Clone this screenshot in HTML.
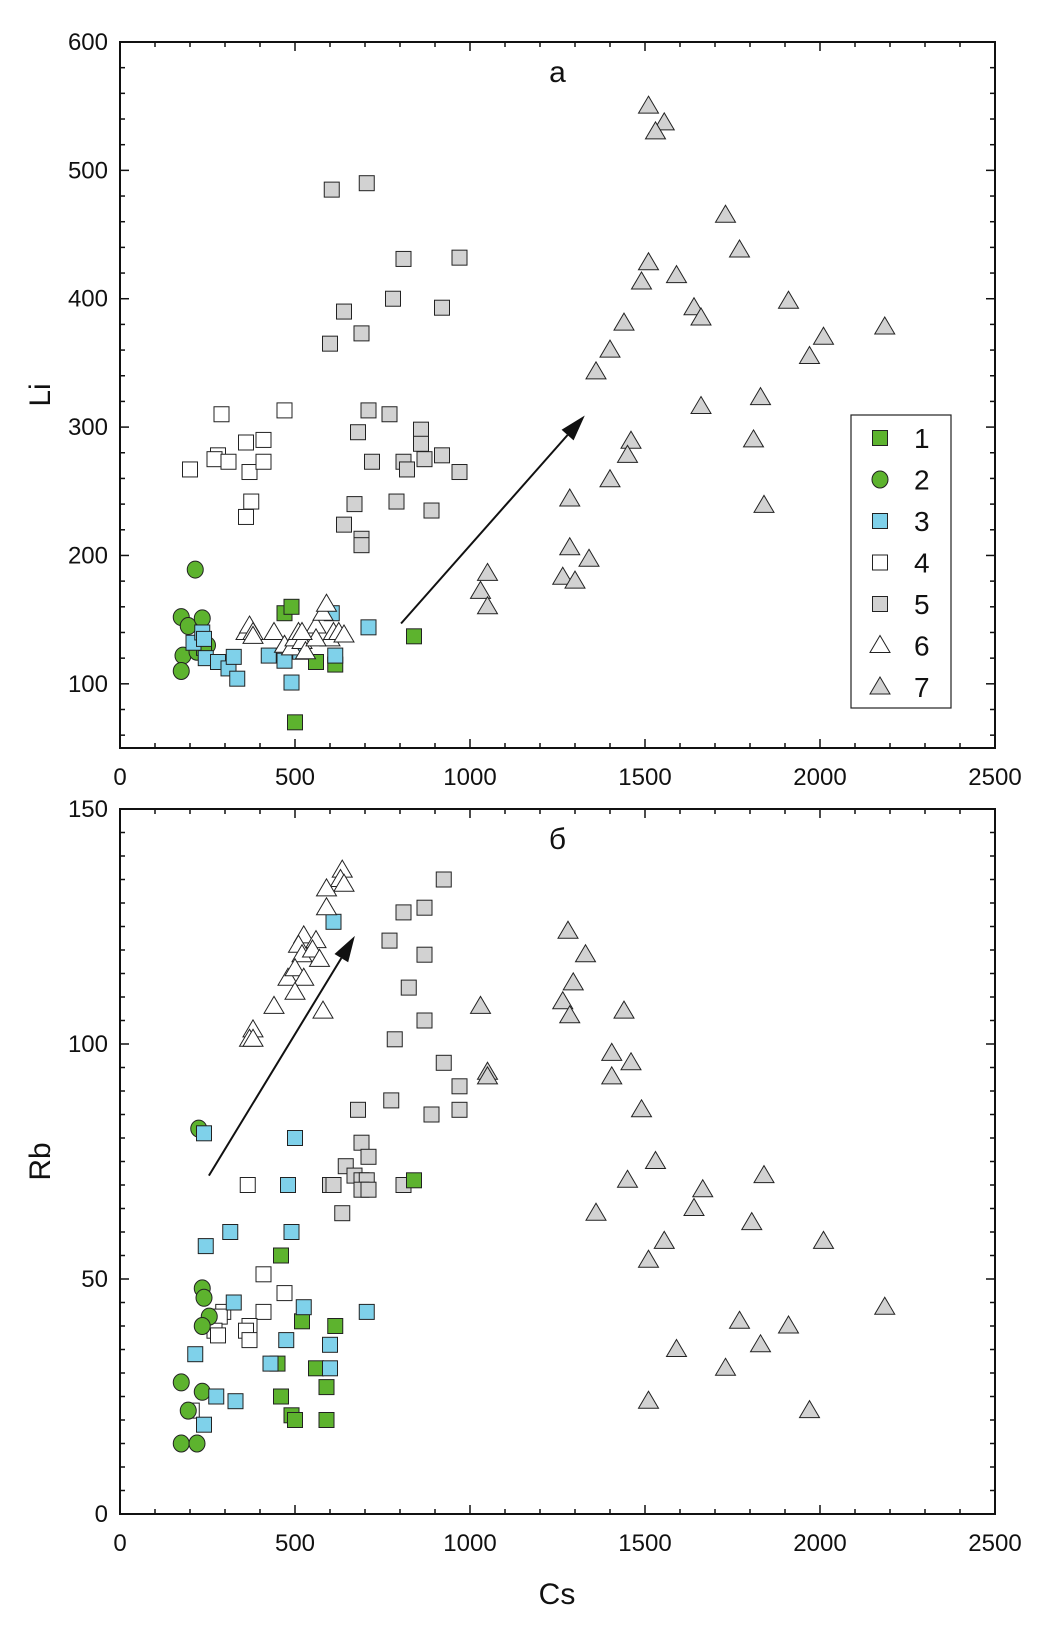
<!DOCTYPE html>
<html><head><meta charset="utf-8"><style>
html,body{margin:0;padding:0;background:#fff;}
svg{display:block;font-family:"Liberation Sans",sans-serif;}
</style></head><body>
<svg id="chart" width="1044" height="1632" viewBox="0 0 1044 1632" xmlns="http://www.w3.org/2000/svg"></svg>
<script>
// ---- Panel a: Li vs Cs ----
const a_s1x=[470,490,500,560,615,840,240];
const a_s1y=[155,160,70,117,115,137,128];
const a_s2x=[175,195,180,175,215,235,250,220];
const a_s2y=[152,145,122,110,189,151,130,125];
const a_s3x=[210,235,240,245,280,310,325,335,425,470,490,515,605,615,710];
const a_s3y=[132,140,135,120,117,112,121,104,122,118,101,125,155,122,144];
const a_s4x=[200,280,290,270,310,360,370,375,360,410,410,470];
const a_s4y=[267,278,310,275,273,288,265,242,230,290,273,313];
const a_s5x=[605,705,600,640,690,780,810,970,920,710,770,680,860,860,720,810,820,870,920,970,670,790,890,640,690,690];
const a_s5y=[485,490,365,390,373,400,431,432,393,313,310,296,298,287,273,273,267,275,278,265,240,242,235,224,213,208];
const a_s6x=[360,370,380,380,440,470,490,500,510,520,530,560,580,590,600,610,625,640,560,520];
const a_s6y=[140,145,140,137,140,130,128,135,140,133,125,145,155,162,135,140,140,138,135,140];
const a_s7x=[1510,1555,1530,1730,1770,1510,1590,1490,1640,1660,1910,2010,1970,2185,1440,1400,1360,1660,1830,1810,1460,1450,1400,1840,1285,1285,1340,1265,1300,1050,1030,1050];
const a_s7y=[550,537,530,465,438,428,418,413,393,385,398,370,355,378,381,360,343,316,323,290,289,278,259,239,244,206,197,183,180,186,172,160];
// ---- Panel b: Rb vs Cs ----
const b_s1x=[840,460,520,615,450,560,590,460,490,500,590];
const b_s1y=[71,55,41,40,32,31,27,25,21,20,20];
const b_s2x=[225,235,240,255,235,175,235,195,175,220];
const b_s2y=[82,48,46,42,40,28,26,22,15,15];
const b_s3x=[240,500,480,490,315,245,325,525,705,475,215,430,600,600,275,330,240,610];
const b_s3y=[81,80,70,60,60,57,45,44,43,37,34,32,36,31,25,24,19,126];
const b_s4x=[365,410,470,410,295,285,270,370,360,280,370,205];
const b_s4y=[70,51,47,43,43,42,39,40,39,38,37,22];
const b_s5x=[925,810,870,770,870,825,870,785,925,970,775,680,970,890,690,710,645,670,690,705,600,610,810,690,710,635];
const b_s5y=[135,128,129,122,119,112,105,101,96,91,88,86,86,85,79,76,74,72,71,71,70,70,70,69,69,64];
const b_s6x=[635,630,640,590,590,525,510,560,520,550,570,480,500,525,500,440,580,380,370,380];
const b_s6y=[137,135,134,133,129,123,121,122,119,120,118,114,116,114,111,108,107,103,101,101];
const b_s7x=[1280,1330,1295,1265,1285,1030,1440,1050,1050,1405,1405,1460,1490,1530,1450,1840,1665,1360,1640,1805,1555,2010,1510,2185,1770,1910,1830,1590,1730,1510,1970];
const b_s7y=[124,119,113,109,106,108,107,94,93,98,93,96,86,75,71,72,69,64,65,62,58,58,54,44,41,40,36,35,31,24,22];
const xTicks=[0,500,1000,1500,2000,2500];
const aYTicks=[100,200,300,400,500,600];
const bYTicks=[0,50,100,150];
const legendLabels=["1","2","3","4","5","6","7"];
const arrowA=[803,147,1328,309];
const arrowB=[254,72,671,123];

const NS="http://www.w3.org/2000/svg";
const svg=document.getElementById('chart');
function mk(tag,attrs,parent){const e=document.createElementNS(NS,tag);for(const k in attrs)e.setAttribute(k,attrs[k]);(parent||svg).appendChild(e);return e;}
const styles={
 1:{shape:'sq',fill:'#5db32e'},2:{shape:'ci',fill:'#5db32e'},3:{shape:'sq',fill:'#7fd1ea'},
 4:{shape:'sq',fill:'#ffffff'},5:{shape:'sq',fill:'#d2d2d2'},6:{shape:'tr',fill:'#ffffff'},7:{shape:'tr',fill:'#d2d2d2'}};
function marker(g,s,cx,cy){
  const st=styles[s];let e;
  if(st.shape==='sq'){e=mk('rect',{x:cx-7.5,y:cy-7.5,width:15,height:15,fill:st.fill,stroke:'#222','stroke-width':1},g);}
  else if(st.shape==='ci'){e=mk('ellipse',{cx:cx,cy:cy,rx:8,ry:8.5,fill:st.fill,stroke:'#222','stroke-width':1},g);}
  else {e=mk('polygon',{points:`${cx},${cy-10} ${cx+10},${cy+7} ${cx-10},${cy+7}`,fill:st.fill,stroke:'#222','stroke-width':1},g);}
  return e;
}
function panel(id,L,R,T,B,ymin,ymax,yTicks,yMinor,ytitle,letter,series,arrow){
  const xs=v=>L+(v/2500)*(R-L);
  const ys=v=>B-(v-ymin)/(ymax-ymin)*(B-T);
  const g=mk('g',{});
  
  
  // ticks
  const tg=mk('g',{stroke:'#111','stroke-width':1.5},g);
  
  
  for(let v=0;v<=2500;v+=100){const x=xs(v);const len=(v%500===0)?9:5;
    mk('line',{x1:x,y1:B,x2:x,y2:B-len},tg);mk('line',{x1:x,y1:T,x2:x,y2:T+len},tg);}
  const y0=Math.ceil(ymin/yMinor)*yMinor;
  for(let v=y0;v<=ymax;v+=yMinor){const y=ys(v);const len=(yTicks.includes(v))?9:5;
    mk('line',{x1:L,y1:y,x2:L+len,y2:y},tg);mk('line',{x1:R,y1:y,x2:R-len,y2:y},tg);}
  const frame=mk('rect',{x:L,y:T,width:R-L,height:B-T,fill:'none',stroke:'#111','stroke-width':2},g);
  
  
  xTicks.forEach(v=>{const t=mk('text',{x:xs(v),y:B+37,'text-anchor':'middle','font-size':24,fill:'#111'},g);t.textContent=v;
    
    });
  yTicks.forEach(v=>{const t=mk('text',{x:L-12,y:ys(v)+8,'text-anchor':'end','font-size':24,fill:'#111'},g);t.textContent=v;
    
    });
  const yt=mk('text',{x:0,y:0,'text-anchor':'middle','font-size':30,fill:'#111',transform:`translate(${L-70},${(T+B)/2}) rotate(-90)`},g);
  yt.textContent=ytitle;
  
  
  const lt=mk('text',{x:(L+R)/2,y:T+40,'text-anchor':'middle','font-size':30,fill:'#111'},g);
  lt.textContent=letter;
  
  
  // arrow
  const ax1=xs(arrow[0]),ay1=ys(arrow[1]),ax2=xs(arrow[2]),ay2=ys(arrow[3]);
  const ang=Math.atan2(ay2-ay1,ax2-ax1);const hl=26,hw=8;
  const bx=ax2-hl*Math.cos(ang),by=ay2-hl*Math.sin(ang);
  const ar=mk('g',{},g);
  
  
  mk('line',{x1:ax1,y1:ay1,x2:bx,y2:by,stroke:'#111','stroke-width':2},ar);
  mk('polygon',{points:`${ax2},${ay2} ${bx-hw*Math.sin(ang)},${by+hw*Math.cos(ang)} ${bx+hw*Math.sin(ang)},${by-hw*Math.cos(ang)}`,fill:'#111'},ar);
  // series
  series.forEach(([s,xa,ya])=>{
    const sg=mk('g',{},g);
    
    
    xa.forEach((xv,i)=>{const m=marker(sg,s,xs(xv),ys(ya[i]));
      
      });
  });
}
panel('a',120,995,42,748,50,600,aYTicks,20,'Li','a',
 [[5,a_s5x,a_s5y],[4,a_s4x,a_s4y],[7,a_s7x,a_s7y],[2,a_s2x,a_s2y],[1,a_s1x,a_s1y],[3,a_s3x,a_s3y],[6,a_s6x,a_s6y]],arrowA);
panel('b',120,995,809,1514,0,150,bYTicks,5,'Rb','б',
 [[5,b_s5x,b_s5y],[4,b_s4x,b_s4y],[7,b_s7x,b_s7y],[2,b_s2x,b_s2y],[1,b_s1x,b_s1y],[3,b_s3x,b_s3y],[6,b_s6x,b_s6y]],arrowB);
// x title
const xt=mk('text',{x:557,y:1604,'text-anchor':'middle','font-size':30,fill:'#111'});
xt.textContent='Cs';


// legend
const lg=mk('g',{});


mk('rect',{x:851,y:415,width:100,height:293,fill:'#fff',stroke:'#222','stroke-width':1.2},lg);
legendLabels.forEach((lab,i)=>{
  const y=438+i*41.5;
  const eg=mk('g',{},lg);
  
  
  marker(eg,i+1,880,y);
  const t=mk('text',{x:914,y:y+10,'text-anchor':'start','font-size':28,fill:'#111'},eg);t.textContent=lab;
});
</script>
</body></html>
